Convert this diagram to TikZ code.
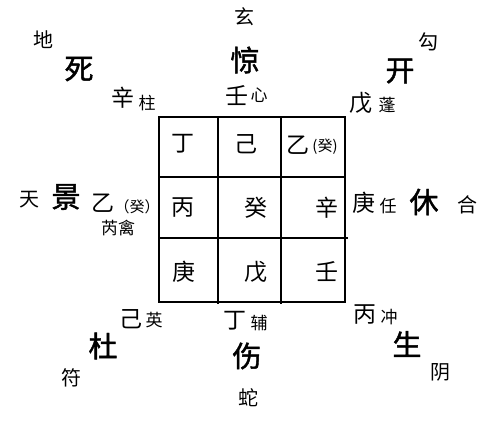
\documentclass[tikz,border=0pt]{standalone}
\usepackage{fontspec}
\setmainfont{Noto Sans CJK SC}
\newfontfamily\heiti[FakeBold=1.5]{Noto Sans CJK SC}
\tikzset{
  every node/.style={inner sep=0pt, outer sep=0pt, text=black},
  door/.style={font=\heiti\fontsize{29}{29}\selectfont},
  deity/.style={font=\fontsize{20}{20}\selectfont},
  stem/.style={font=\fontsize{23}{23}\selectfont},
  star/.style={font=\fontsize{17}{17}\selectfont},
  paren/.style={font=\fontsize{15}{15}\selectfont},
  parenwide/.style={font=\fontsize{15}{15}\selectfont},
  gridline/.style={line width=1.6pt, black}
}
\begin{document}
\begin{tikzpicture}[x=1pt,y=-1pt]
\useasboundingbox (0,0) rectangle (500,426);
% grid
\draw[gridline] (159,117) rectangle (345,302);
\draw[gridline] (159,177) -- (345,177);
\draw[gridline] (159,238) -- (348,238);
\draw[gridline] (218,117) -- (218,304);
\draw[gridline] (281,117) -- (281,304);
% grid contents
\node[stem] (c11) at (183,144) {丁};
\node[stem] (c12) at (246,144) {己};
\node[stem] (c13) at (298,145) {乙};
\node[paren] (c13p) at (325,147) {(癸)};
\node[stem] (c21) at (183,208) {丙};
\node[stem] (c22) at (256,208) {癸};
\node[stem] (c23) at (327,208) {辛};
\node[stem] (c31) at (184,272) {庚};
\node[stem] (c32) at (256,272) {戊};
\node[stem] (c33) at (327,272) {壬};
% doors
\node[door] (si) at (79,69) {死};
\node[door] (jing) at (245,60) {惊};
\node[door] (kai) at (400,71) {开};
\node[door] (jingL) at (66,197) {景};
\node[door] (xiu) at (424,202) {休};
\node[door] (du) at (103,346) {杜};
\node[door] (shang) at (247,356) {伤};
\node[door] (sheng) at (407,344) {生};
% deities
\node[deity] (xuan) at (244,17) {玄};
\node[deity] (di) at (43,40) {地};
\node[deity] (gou) at (428,42) {勾};
\node[deity] (tian) at (29,200) {天};
\node[deity] (he) at (467,205) {合};
\node[deity] (fu) at (71,378) {符};
\node[deity] (she) at (248,398) {蛇};
\node[deity] (yin) at (440,372) {阴};
% heaven stems outside
\node[stem] (s1) at (123,98) {辛};
\node[star] (t1) at (147,103) {柱};
\node[stem] (s2) at (237,96) {壬};
\node[star] (t2) at (259,95) {心};
\node[stem] (s3) at (361,103) {戊};
\node[star] (t3) at (387,105) {蓬};
\node[stem] (s4) at (103,203) {乙};
\node[parenwide] (s4p) at (137,207) {（癸）};
\node[star] (t4) at (118,228) {芮禽};
\node[stem] (s6) at (364,203) {庚};
\node[star] (t6) at (388,206) {任};
\node[stem] (s7) at (131,319) {己};
\node[star] (t7) at (154,320) {英};
\node[stem] (s8) at (235,321) {丁};
\node[star] (t8) at (259,323) {辅};
\node[stem] (s9) at (365,315) {丙};
\node[star] (t9) at (389,317) {冲};
\end{tikzpicture}
\end{document}
